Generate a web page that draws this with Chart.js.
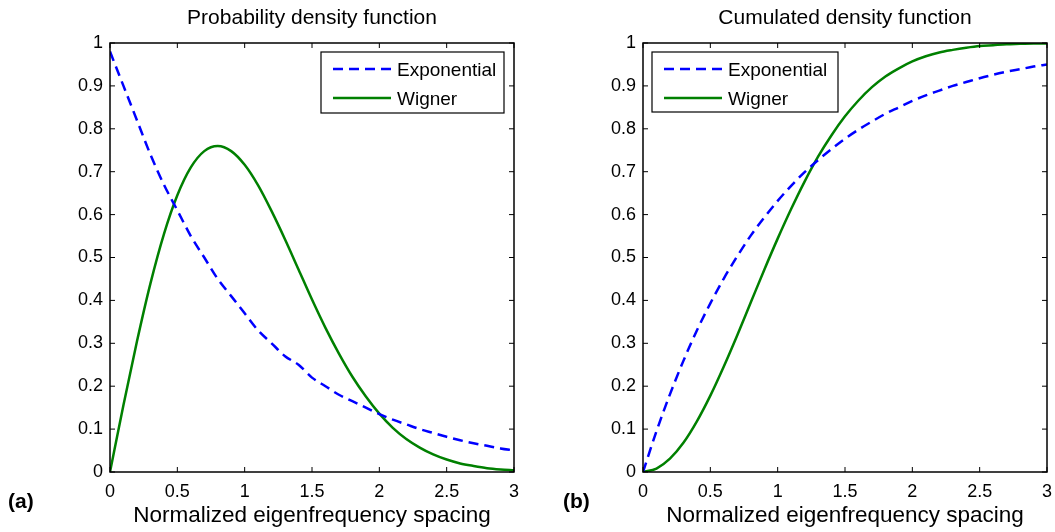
<!DOCTYPE html>
<html>
<head>
<meta charset="utf-8">
<script src="https://cdn.jsdelivr.net/npm/chart.js@4.4.1/dist/chart.umd.min.js"></script>
<style>
  body { margin: 0; background: #fff; }
  #wrap { position: relative; width: 1055px; height: 532px; }
  canvas { position: absolute; top: 0; }
</style>
</head>
<body>
<div id="wrap">
  <canvas id="pdf-chart" width="527" height="532" style="left:0;width:527px;height:532px"></canvas>
  <canvas id="cdf-chart" width="528" height="532" style="left:527px;width:528px;height:532px"></canvas>
</div>
<script>
// x positions (normalized spacing), read every 0.1
const spacing = [0, 0.1, 0.2, 0.3, 0.4, 0.5, 0.6, 0.7, 0.8, 0.9, 1.0, 1.1, 1.2, 1.3, 1.4, 1.5,
  1.6, 1.7, 1.8, 1.9, 2.0, 2.1, 2.2, 2.3, 2.4, 2.5, 2.6, 2.7, 2.8, 2.9, 3.0];

// panel (a) probability density
const pdfExponential = [0.98, 0.9, 0.82, 0.74, 0.67, 0.61, 0.55, 0.5, 0.45, 0.41, 0.37, 0.33, 0.3,
  0.27, 0.25, 0.22, 0.2, 0.18, 0.165, 0.15, 0.135, 0.122, 0.111, 0.1, 0.091, 0.082, 0.074,
  0.067, 0.061, 0.055, 0.05];
const pdfWigner = [0, 0.156, 0.304, 0.439, 0.554, 0.645, 0.71, 0.748, 0.76, 0.748, 0.716, 0.668,
  0.608, 0.542, 0.472, 0.402, 0.336, 0.276, 0.222, 0.176, 0.136, 0.103, 0.077, 0.057, 0.041,
  0.029, 0.02, 0.014, 0.009, 0.006, 0.004];

// panel (b) cumulated density
const cdfExponential = [0, 0.095, 0.181, 0.259, 0.33, 0.393, 0.451, 0.503, 0.551, 0.593, 0.632,
  0.667, 0.699, 0.727, 0.753, 0.777, 0.798, 0.817, 0.835, 0.85, 0.865, 0.878, 0.889, 0.9,
  0.909, 0.918, 0.926, 0.933, 0.939, 0.945, 0.95];
const cdfWigner = [0, 0.008, 0.031, 0.068, 0.118, 0.178, 0.246, 0.319, 0.395, 0.471, 0.544, 0.613,
  0.677, 0.735, 0.785, 0.829, 0.866, 0.897, 0.922, 0.941, 0.957, 0.969, 0.978, 0.984, 0.989,
  0.993, 0.995, 0.997, 0.998, 0.999, 0.999];

const xTicks = [0, 0.5, 1, 1.5, 2, 2.5, 3];
const yTicks = [0, 0.1, 0.2, 0.3, 0.4, 0.5, 0.6, 0.7, 0.8, 0.9, 1];
const seriesNames = ['Exponential', 'Wigner'];
const xLabel = 'Normalized eigenfrequency spacing';

const FONT = 'Arial, "Liberation Sans", sans-serif';

function toPoints(values) {
    return values.map((v, i) => ({ x: spacing[i], y: v }));
}

// matlab-like frame, inward ticks, titles and legend box
function matlabPlugin(opts) {
    return {
        id: 'matlabFrame',
        afterDatasetsDraw(chart) {
            const ctx = chart.ctx;
            const a = chart.chartArea;
            const xs = chart.scales.x, ys = chart.scales.y;
            ctx.save();
            ctx.strokeStyle = '#000';
            ctx.lineWidth = 1.5;
            ctx.strokeRect(a.left, a.top, a.right - a.left, a.bottom - a.top);
            ctx.lineWidth = 1;
            ctx.beginPath();
            xTicks.forEach(t => {
                const px = xs.getPixelForValue(t);
                ctx.moveTo(px, a.bottom); ctx.lineTo(px, a.bottom - 5);
                ctx.moveTo(px, a.top); ctx.lineTo(px, a.top + 5);
            });
            yTicks.forEach(t => {
                const py = ys.getPixelForValue(t);
                ctx.moveTo(a.left, py); ctx.lineTo(a.left + 5, py);
                ctx.moveTo(a.right, py); ctx.lineTo(a.right - 5, py);
            });
            ctx.stroke();

            // legend
            const L = opts.legend;
            ctx.fillStyle = '#fff';
            ctx.fillRect(L.x, L.y, L.w, L.h);
            ctx.lineWidth = 1.2;
            ctx.strokeRect(L.x, L.y, L.w, L.h);
            chart.data.datasets.forEach((ds, i) => {
                const ly = L.y + 17 + i * 29;
                ctx.strokeStyle = ds.borderColor;
                ctx.lineWidth = 2.5;
                ctx.setLineDash(ds.borderDash || []);
                ctx.beginPath();
                ctx.moveTo(L.x + 12, ly);
                ctx.lineTo(L.x + 70, ly);
                ctx.stroke();
                ctx.setLineDash([]);
                ctx.fillStyle = '#000';
                ctx.font = '19px ' + FONT;
                ctx.textBaseline = 'middle';
                ctx.textAlign = 'left';
                ctx.fillText(ds.label, L.x + 76, ly + 2);
            });

            // titles
            const cx = (a.left + a.right) / 2;
            ctx.fillStyle = '#000';
            ctx.textAlign = 'center';
            ctx.textBaseline = 'middle';
            ctx.font = '21px ' + FONT;
            ctx.fillText(opts.title, cx, 18);
            ctx.font = '22.5px ' + FONT;
            ctx.fillText(xLabel, cx, 516);
            ctx.font = 'bold 21px ' + FONT;
            ctx.textAlign = 'left';
            ctx.fillText(opts.tag, opts.tagX, 502);
            ctx.restore();
        }
    };
}

function renderPanel(canvasId, exp, wig, opts) {
    const ctx = document.getElementById(canvasId).getContext('2d');
    new Chart(ctx, {
        type: 'line',
        data: {
            datasets: [
                {
                    label: seriesNames[0],
                    data: toPoints(exp),
                    borderColor: '#0000ff',
                    borderWidth: 2.5,
                    borderDash: [10, 6],
                    pointRadius: 0,
                    cubicInterpolationMode: 'monotone',
                    fill: false
                },
                {
                    label: seriesNames[1],
                    data: toPoints(wig),
                    borderColor: '#008000',
                    borderWidth: 2.5,
                    pointRadius: 0,
                    cubicInterpolationMode: 'monotone',
                    fill: false
                }
            ]
        },
        options: {
            responsive: false,
            animation: false,
            layout: { padding: { top: 43, right: opts.padRight, left: 0, bottom: 0 } },
            scales: {
                x: {
                    type: 'linear',
                    min: 0,
                    max: 3,
                    afterBuildTicks: s => { s.ticks = xTicks.map(v => ({ value: v })); },
                    afterFit: s => { s.height = 60; s.paddingLeft = 0; s.paddingRight = 0; },
                    grid: { display: false, drawTicks: false },
                    border: { display: false },
                    ticks: {
                        color: '#000',
                        padding: 9,
                        font: { family: FONT, size: 18 },
                        maxRotation: 0,
                        callback: v => String(v)
                    }
                },
                y: {
                    min: 0,
                    max: 1,
                    afterBuildTicks: s => { s.ticks = yTicks.map(v => ({ value: v })); },
                    afterFit: s => { s.width = opts.axisLeft; s.paddingTop = 0; s.paddingBottom = 0; },
                    grid: { display: false, drawTicks: false },
                    border: { display: false },
                    ticks: {
                        color: '#000',
                        padding: 7,
                        font: { family: FONT, size: 18 },
                        callback: v => String(Number(v.toFixed(1)))
                    }
                }
            },
            plugins: {
                legend: { display: false },
                title: { display: false },
                tooltip: { enabled: false }
            }
        },
        plugins: [matlabPlugin(opts)]
    });
}

renderPanel('pdf-chart', pdfExponential, pdfWigner, {
    title: 'Probability density function',
    tag: '(a)', tagX: 8,
    axisLeft: 110, padRight: 13,
    legend: { x: 321, y: 52, w: 183, h: 61 }
});

renderPanel('cdf-chart', cdfExponential, cdfWigner, {
    title: 'Cumulated density function',
    tag: '(b)', tagX: 36,
    axisLeft: 116, padRight: 8,
    legend: { x: 125, y: 52, w: 186, h: 60 }
});
</script>
</body>
</html>
